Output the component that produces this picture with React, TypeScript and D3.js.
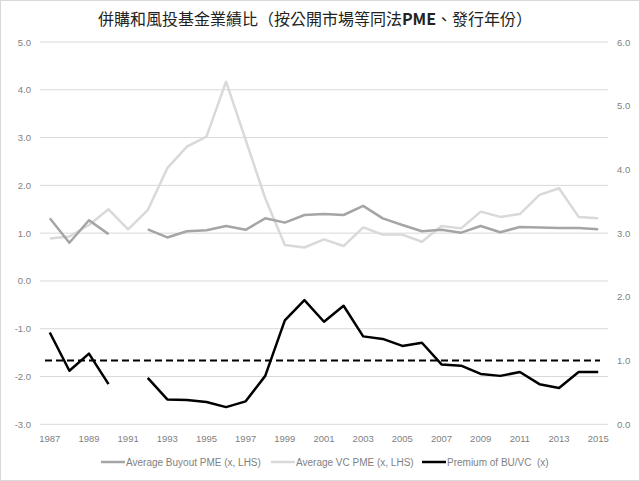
import * as d3 from "d3";

const years = d3.range(1987, 2016).map(String);

// Average Buyout PME (LHS), null = no data
const buyout = [1.31, 0.8, 1.27, 0.98, null, 1.08, 0.91, 1.04, 1.06, 1.15, 1.07, 1.31, 1.22, 1.38, 1.4,
  1.38, 1.57, 1.31, 1.17, 1.04, 1.07, 1.01, 1.15, 1.02, 1.13, 1.12, 1.11, 1.11, 1.08];

// Average VC PME (LHS)
const vc = [0.89, 0.93, 1.17, 1.5, 1.08, 1.48, 2.36, 2.81, 3.02, 4.17, 2.95, 1.73, 0.75, 0.7, 0.87,
  0.73, 1.12, 0.97, 0.97, 0.82, 1.15, 1.1, 1.45, 1.34, 1.4, 1.8, 1.94, 1.34, 1.31];

// Premium of BU/VC (RHS)
const premium = [1.44, 0.84, 1.11, 0.63, null, 0.73, 0.39, 0.38, 0.35, 0.27, 0.36, 0.76, 1.63, 1.95, 1.61,
  1.86, 1.38, 1.34, 1.23, 1.28, 0.94, 0.92, 0.79, 0.76, 0.82, 0.63, 0.57, 0.82, 0.82];

const leftTicks = [5, 4, 3, 2, 1, 0, -1, -2, -3];
const rightTicks = [6, 5, 4, 3, 2, 1, 0];
const xLabels = years.filter((_, i) => i % 2 === 0);

const legendItems = [
  { label: "Average Buyout PME (x, LHS)", color: "#a5a5a5" },
  { label: "Average VC PME (x, LHS)", color: "#d9d9d9" },
  { label: "Premium of BU/VC  (x)", color: "#000000" },
];

const W = 640;
const H = 481;
const plotL = 40;
const plotR = 608;
const plotT = 42;
const plotB = 424.3;
const tickFont = "'Liberation Sans', Arial, sans-serif";

export default function App() {
  const x = d3.scaleBand<string>().domain(years).range([plotL, plotR]);
  const cx = (i: number) => (x(years[i]) as number) + x.bandwidth() / 2;
  const yL = d3.scaleLinear().domain([-3, 5]).range([plotB, plotT]);
  const yR = d3.scaleLinear().domain([0, 6]).range([plotB, plotT]);

  const lineL = d3
    .line<number | null>()
    .defined((d) => d != null)
    .x((_, i) => cx(i))
    .y((d) => yL(d as number));
  const lineR = d3
    .line<number | null>()
    .defined((d) => d != null)
    .x((_, i) => cx(i))
    .y((d) => yR(d as number));

  return (
    <svg width={W} height={H} style={{ position: "absolute", left: 0, top: 0, background: "#fff" }}>
      <rect x={0.5} y={0.5} width={W - 1} height={H - 1} fill="#fff" stroke="#d9d9d9" />
      <text
        x={315}
        y={25}
        textAnchor="middle"
        fontSize={16}
        fontFamily="'Noto Sans CJK TC', sans-serif"
        fill="#222"
      >
        併購和風投基金業績比（按公開市場等同法<tspan fontWeight="bold">PME</tspan>、發行年份）
      </text>

      {/* gridlines */}
      {leftTicks.map((t) => (
        <line key={t} x1={plotL} x2={plotR} y1={yL(t)} y2={yL(t)} stroke="#d9d9d9" strokeWidth={1} />
      ))}

      {/* left axis labels */}
      {leftTicks.map((t) => (
        <text key={t} x={31} y={yL(t) + 3.5} textAnchor="end" fontSize={9.5} fontFamily={tickFont} fill="#7f7f7f">
          {t.toFixed(1)}
        </text>
      ))}
      {/* right axis labels */}
      {rightTicks.map((t) => (
        <text key={t} x={617} y={yR(t) + 3.5} textAnchor="start" fontSize={9.5} fontFamily={tickFont} fill="#7f7f7f">
          {t.toFixed(1)}
        </text>
      ))}
      {/* x labels */}
      {xLabels.map((yr) => (
        <text
          key={yr}
          x={(x(yr) as number) + x.bandwidth() / 2}
          y={442}
          textAnchor="middle"
          fontSize={9.5}
          fontFamily={tickFont}
          fill="#7f7f7f"
        >
          {yr}
        </text>
      ))}

      {/* series */}
      <path d={lineL(vc) ?? ""} fill="none" stroke="#d9d9d9" strokeWidth={2.5} strokeLinejoin="round" />
      <path d={lineL(buyout) ?? ""} fill="none" stroke="#a5a5a5" strokeWidth={2.5} strokeLinejoin="round" />
      <line x1={45} x2={600} y1={yR(1)} y2={yR(1)} stroke="#000" strokeWidth={2} strokeDasharray="7,4" />
      <path d={lineR(premium) ?? ""} fill="none" stroke="#000" strokeWidth={2.5} strokeLinejoin="round" />

      {/* legend */}
      {legendItems.map((it, i) => {
        const lx = [101, 271, 422][i];
        return (
          <g key={it.label}>
            <line x1={lx} x2={lx + 24} y1={462} y2={462} stroke={it.color} strokeWidth={2.5} />
            <text
              x={lx + 25}
              y={465.5}
              fontSize={10}
              fontFamily={tickFont}
              fill="#7f7f7f"
              style={{ whiteSpace: "pre" }}
            >
              {it.label}
            </text>
          </g>
        );
      })}
    </svg>
  );
}
